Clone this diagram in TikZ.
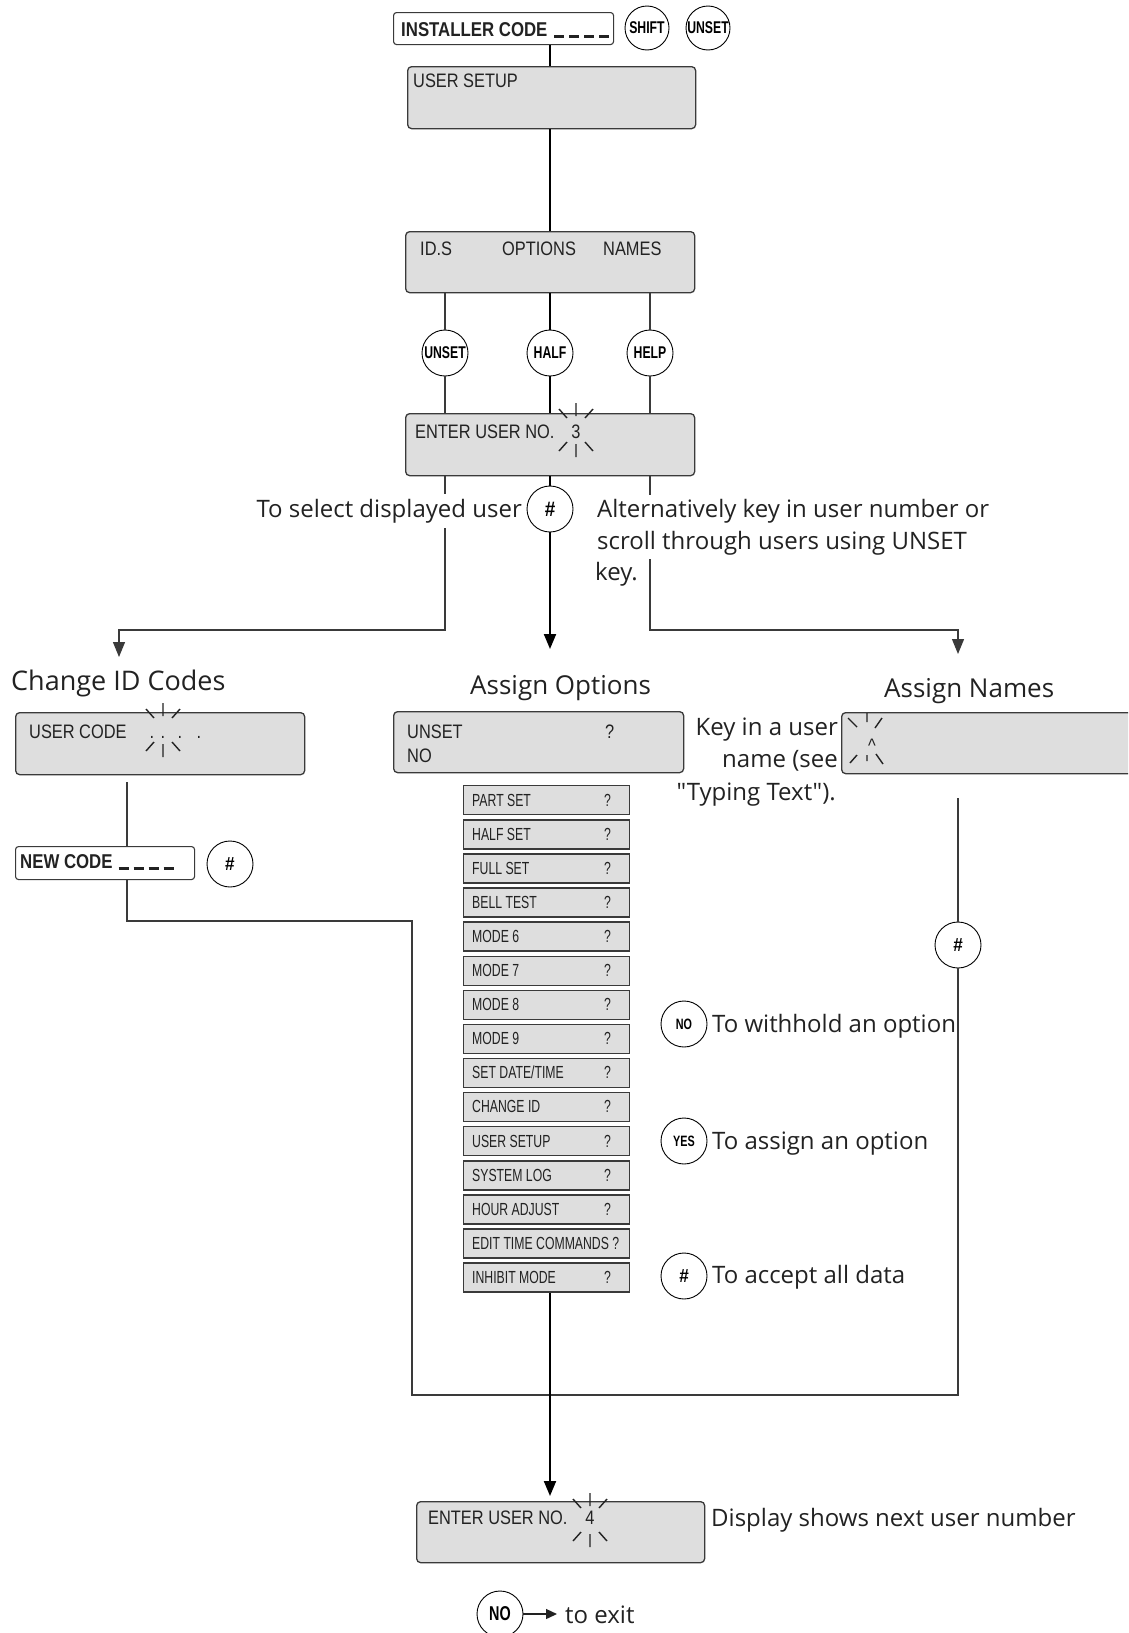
\documentclass[tikz,border=0pt]{standalone}
\usepackage{fontspec}
\setmainfont{Open Sans}
\newfontfamily\notefont{Open Sans}
\newfontfamily\lcdfont[FakeStretch=0.84]{Liberation Sans}
\newfontfamily\optfont[FakeStretch=0.7]{Liberation Sans}
\newfontfamily\keyfont[FakeStretch=0.72]{Liberation Sans}
\newfontfamily\hashfont[FakeStretch=0.9]{Liberation Sans}
\newfontfamily\entryfont[FakeStretch=0.84]{Liberation Sans}
\usetikzlibrary{arrows.meta}

\definecolor{lcdgray}{HTML}{DEDEDE}
\definecolor{edge}{HTML}{3A3A3A}
\definecolor{ink}{HTML}{222222}

% blank digit places of an entry field
\newcommand\digitslots{\rule[-2pt]{10pt}{2.6pt}\hspace{5pt}\rule[-2pt]{10pt}{2.6pt}\hspace{5pt}%
  \rule[-2pt]{10pt}{2.6pt}\hspace{5pt}\rule[-2pt]{10pt}{2.6pt}}

\tikzset{
  lcd/.style={draw=edge, line width=1.3pt, fill=lcdgray, rounded corners=4pt, anchor=north west, inner sep=0pt},
  entry/.style={draw=edge, line width=1.1pt, fill=white, rounded corners=3pt, anchor=north west, inner sep=0pt},
  optbox/.style={draw=edge, line width=1.4pt, fill=lcdgray, anchor=north west, inner sep=0pt,
                 minimum width=166pt, minimum height=29pt},
  keycap/.style={circle, draw=black, line width=0.9pt, fill=white, minimum size=46pt, inner sep=0pt,
                 font=\keyfont\bfseries\fontsize{17}{17}\selectfont},
  smallcap/.style={keycap, font=\keyfont\bfseries\fontsize{15}{15}\selectfont},
  hashcap/.style={keycap, font=\hashfont\bfseries\fontsize{19}{19}\selectfont},
  wire/.style={draw=edge, line width=1.2pt},
  mainwire/.style={draw=black, line width=2pt},
  arrowend/.style={-{Triangle[length=15pt,width=12pt]}},
  prose/.style={font=\notefont\fontsize{24}{30}\selectfont, inner sep=0pt, text=ink},
  caption/.style={font=\notefont\fontsize{27}{32}\selectfont, inner sep=0pt, text=ink, anchor=base west},
  lcdtext/.style={font=\lcdfont\fontsize{19.5}{24}\selectfont, inner sep=0pt, anchor=base west, text=ink},
  opttext/.style={font=\optfont\fontsize{17.5}{20}\selectfont, inner sep=0pt, anchor=base west, text=ink},
  entrytext/.style={font=\entryfont\bfseries\fontsize{20}{24}\selectfont, inner sep=0pt, anchor=base west, text=ink},
  sparkle/.pic={
    \draw[line width=1.4pt, draw=ink]
      (0,-27)--(0,-14) (-17,-21)--(-9,-12) (17,-21)--(9,-12)
      (0,14)--(0,27) (-17,21)--(-9,12) (17,21)--(9,12);
  },
}

\begin{document}
\begin{tikzpicture}[x=1pt,y=-1pt]
\useasboundingbox (0,0) rectangle (1128,1633);
\clip (0,0) rectangle (1128,1633);

% ---------- displays and entry fields ----------
\node[entry, minimum width=220pt, minimum height=32pt] (inst) at (393,12) {};
\node[lcd, minimum width=288pt, minimum height=62pt] (setup) at (407,66) {};
\node[lcd, minimum width=289pt, minimum height=61pt] (menu) at (405,231) {};
\node[lcd, minimum width=289pt, minimum height=62pt] (enter) at (405,413) {};
\node[lcd, minimum width=289pt, minimum height=62pt] (cid) at (15,712) {};
\node[entry, minimum width=179pt, minimum height=33pt] (newcode) at (15,846) {};
\node[lcd, minimum width=290pt, minimum height=61pt] (opts) at (393,711) {};
\node[lcd, minimum width=300pt, minimum height=61pt] (names) at (841,712) {};
\node[lcd, minimum width=288pt, minimum height=61pt] (enter2) at (416,1501) {};

% option list
\foreach \i/\t/\q in {0/PART SET/?, 1/HALF SET/?, 2/FULL SET/?, 3/BELL TEST/?, 4/MODE 6/?,
                      5/MODE 7/?, 6/MODE 8/?, 7/MODE 9/?, 8/{SET DATE/TIME}/?, 9/CHANGE ID/?,
                      10/USER SETUP/?, 11/SYSTEM LOG/?, 12/HOUR ADJUST/?, 13/EDIT TIME COMMANDS ?/{},
                      14/INHIBIT MODE/?}{
  \node[optbox] (opt\i) at (463,{785+34.1*\i}) {};
  \node[opttext] (optl\i) at (472,{806+34.1*\i}) {\t};
  \node[opttext] (optq\i) at (604,{806+34.1*\i}) {\q};
}

% ---------- keys ----------
\node[keycap, minimum size=44pt] (kshift) at (647,28) {SHIFT};
\node[keycap, minimum size=44pt] (kunset) at (708,28) {UNSET};
\node[keycap] (kids) at (445,353) {UNSET};
\node[keycap] (khalf) at (550,353) {HALF};
\node[keycap] (khelp) at (650,353) {HELP};
\node[hashcap, font=\hashfont\bfseries\fontsize{21}{21}\selectfont] (khash) at (550,509) {\#};
\node[hashcap] (khashc) at (230,864) {\#};
\node[hashcap] (khashr) at (958,945) {\#};
\node[smallcap] (kno) at (684,1024) {NO};
\node[smallcap] (kyes) at (684,1141) {YES};
\node[hashcap] (kacc) at (684,1276) {\#};
\node[keycap, font=\keyfont\bfseries\fontsize{20}{20}\selectfont] (kexit) at (500,1614) {NO};

% ---------- connectors ----------
\coordinate (spine) at (550,0);
\coordinate (otip) at (550,649);
\coordinate (lturn) at (119,630);
\coordinate (ltip) at (119,657);
\coordinate (rturn) at (958,630);
\coordinate (rtip) at (958,654);
\coordinate (cidtop) at (127,782);
\coordinate (la) at (412,921);
\coordinate (lb) at (412,1395);
\coordinate (lc) at (958,1395);
\coordinate (nmtop) at (958,798);
\coordinate (xtip) at (557,1614);

\draw[mainwire] (inst.south -| spine) -- (setup.north -| spine);
\draw[mainwire] (setup.south -| spine) -- (menu.north -| spine);
\draw[mainwire] (menu.south -| spine) -- (khalf);
\draw[mainwire] (khalf) -- (enter.north -| spine);
\draw[wire] (menu.south -| kids) -- (kids);
\draw[wire] (kids) -- (enter.north -| kids);
\draw[wire] (menu.south -| khelp) -- (khelp);
\draw[wire] (khelp) -- (enter.north -| khelp);

\draw[mainwire] (enter.south -| spine) -- (khash);
\draw[mainwire, arrowend] (khash) -- (otip);
\draw[wire, arrowend] (enter.south -| kids) -- (kids |- lturn) -- (lturn) -- (ltip);
\draw[wire, arrowend] (enter.south -| khelp) -- (khelp |- rturn) -- (rturn) -- (rtip);

\draw[wire] (cidtop) -- (newcode.north -| cidtop);
\draw[wire] (newcode.south -| cidtop) -- (cidtop |- la) -- (la) -- (lb) -- (lc) -- (khashr);
\draw[wire] (nmtop) -- (khashr);

\draw[mainwire, arrowend, shorten >=5pt] (opt14.south -| spine) -- (enter2.north -| spine);
\draw[line width=1.3pt, draw=ink, -{Triangle[length=11pt,width=10pt]}] (kexit) -- (xtip);

% ---------- display texts ----------
\node[entrytext] (tinst) at (401,36) {INSTALLER CODE\hspace{7pt}\digitslots};
\node[lcdtext] (tsetup) at (413,87) {USER SETUP};
\node[lcdtext] (tids) at (420,255) {ID.S};
\node[lcdtext] (topt) at (502,255) {OPTIONS};
\node[lcdtext] (tnam) at (603,255) {NAMES};
\node[lcdtext] (tenter) at (415,438) {ENTER USER NO.};
\node[lcdtext, anchor=base] (tthree) at (576,438) {3};
\pic at (576,430) {sparkle};

\node[lcdtext] (tcode) at (29,738) {USER CODE};
\foreach \x [count=\n] in {152,163,180,199}
  \node[lcdtext, anchor=base] (dot\n) at (\x,738) {.};
\pic at (163,730) {sparkle};
\node[entrytext] (tnew) at (20,868) {NEW CODE\hspace{6pt}\digitslots};

\node[lcdtext] (tunset) at (407,738) {UNSET};
\node[lcdtext] (tq) at (605,738) {?};
\node[lcdtext] (tno) at (407,762) {NO};

\draw[line width=1.4pt, draw=ink]
  (867,713)--(867,722) (848,718)--(857,727) (882,718)--(875,728)
  (850,763)--(857,755) (867,755)--(867,761) (883,764)--(876,754);
\node[lcdtext, anchor=base] (tcaret) at (872,752) {\textasciicircum};

\node[lcdtext] (tenter2) at (428,1524) {ENTER USER NO.};
\node[lcdtext, anchor=base] (tfour) at (590,1524) {4};
\pic at (590,1520) {sparkle};

% ---------- captions and notes ----------
\node[prose, anchor=base east, fill=white, inner xsep=2pt, inner ysep=5pt] (tsel) at (524,517) {To select displayed user};
\node[prose, anchor=base west, fill=white, inner xsep=2pt, inner ysep=4pt] (talt1) at (595,517) {Alternatively key in user number or};
\node[prose, anchor=base west, fill=white, inner xsep=2pt, inner ysep=4pt] (talt2) at (595,549) {scroll through users using UNSET};
\node[prose, anchor=base west] (talt3) at (595,580) {key.};

\node[caption] (hcid) at (11,690) {Change ID Codes};
\node[caption, font=\notefont\fontsize{26}{32}\selectfont] (hopt) at (470,694) {Assign Options};
\node[caption, font=\notefont\fontsize{26}{32}\selectfont] (hnam) at (884,697) {Assign Names};

\node[prose, anchor=base east] (tkey1) at (838,735) {Key in a user};
\node[prose, anchor=base east] (tkey2) at (838,767) {name (see};
\node[prose, anchor=base east] (tkey3) at (836,800) {"Typing Text").};

\node[prose, anchor=base west] (twith) at (712,1032) {To withhold an option};
\node[prose, anchor=base west] (tassign) at (712,1149) {To assign an option};
\node[prose, anchor=base west] (taccept) at (712,1283) {To accept all data};
\node[prose, anchor=base west] (tnext) at (711,1526) {Display shows next user number};
\node[prose, anchor=base west] (texit) at (565,1623) {to exit};
\end{tikzpicture}
\end{document}
